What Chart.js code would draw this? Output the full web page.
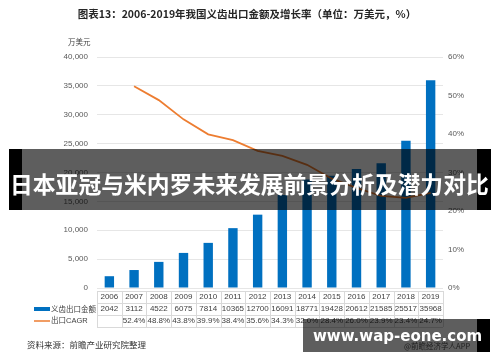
<!DOCTYPE html>
<html>
<head>
<meta charset="utf-8">
<script src="https://cdn.jsdelivr.net/npm/chart.js@4.4.0/dist/chart.umd.min.js"></script>
<style>
  body { margin: 0; background: #fff; }
  #wrap { position: relative; width: 500px; height: 362px; overflow: hidden; }
  .band { position: absolute; background: rgba(0,0,0,0.63); }
  .strip { position: absolute; background: #000; }
  .bandText { position: absolute; color: #fff; font-weight: bold; white-space: nowrap;
    font-family: "Noto Sans CJK SC", sans-serif; }
</style>
</head>
<body>
<div id="wrap">
  <canvas id="chart" width="500" height="362"></canvas>
  <div class="strip" style="left:9px;top:149px;width:13px;height:61px"></div>
  <div class="band" style="left:22px;top:149px;width:455px;height:61px"></div>
  <div class="strip" style="left:477px;top:149px;width:14px;height:61px"></div>
  <div class="bandText" style="left:10px;top:166px;font-size:22.8px;line-height:36px">日本亚冠与米内罗未来发展前景分析及潜力对比</div>

  <div class="band" style="left:303px;top:319px;width:174px;height:33px"></div>
  <div class="strip" style="left:477px;top:319px;width:13px;height:33px"></div>
  <div class="bandText" style="left:313px;top:326px;font-size:15px;line-height:20px;font-family:'DejaVu Sans',sans-serif">www.wap-eone.com</div>
</div>
<script>
// 数据
const years = ['2006','2007','2008','2009','2010','2011','2012','2013','2014','2015','2016','2017','2018','2019'];
const exportValue = [2042, 3112, 4522, 6075, 7814, 10365, 12700, 16091, 18771, 19428, 20612, 21585, 25517, 35968];
const cagr = [null, 52.4, 48.8, 43.8, 39.9, 38.4, 35.6, 34.3, 32.0, 28.4, 26.0, 23.9, 23.4, 24.7];

const blue = '#0070C0';
const orange = '#ED7D31';
const font = "'Liberation Sans', 'Noto Sans CJK SC', sans-serif";

// title, footer and data table below the plot
const tablePlugin = {
    id: 'tablePlugin',
    afterDraw(chart) {
        const ctx = chart.ctx;
        const x = chart.scales.x;
        const step = x.width / years.length;
        const rows = [297, 309, 321];
        ctx.save();

        ctx.fillStyle = '#262626';
        ctx.font = "bold 10.5px 'Noto Sans CJK SC', sans-serif";
        ctx.textAlign = 'center';
        ctx.textBaseline = 'middle';
        ctx.fillText('图表13：2006-2019年我国义齿出口金额及增长率（单位：万美元，%）', 247, 14);

        ctx.font = "7.5px 'Noto Sans CJK SC', sans-serif";
        ctx.fillStyle = '#404040';
        ctx.textAlign = 'left';
        ctx.fillText('万美元', 68, 42);

        ctx.font = "8.5px 'Noto Sans CJK SC', sans-serif";
        ctx.fillStyle = '#333';
        ctx.fillText('资料来源：前瞻产业研究院整理', 27, 345);
        ctx.font = "7.5px 'Noto Sans CJK SC', sans-serif";
        ctx.fillStyle = '#555';
        ctx.fillText('@前瞻经济学人APP', 404, 346);

        // grid of table
        ctx.strokeStyle = '#d9d9d9';
        ctx.lineWidth = 1;
        ctx.beginPath();
        [291, 303, 315, 327].forEach(y => {
            ctx.moveTo(x.left, y + 0.5);
            ctx.lineTo(x.right, y + 0.5);
        });
        for (let i = 0; i <= years.length; i++) {
            const px = Math.round(x.left + i * step) + 0.5;
            ctx.moveTo(px, 291);
            ctx.lineTo(px, 327);
        }
        ctx.stroke();

        ctx.font = '8px ' + font;
        ctx.fillStyle = '#404040';
        ctx.textAlign = 'center';
        years.forEach((yr, i) => {
            const cx = x.getPixelForValue(i);
            ctx.fillText(yr, cx, rows[0]);
            ctx.fillText(String(exportValue[i]), cx, rows[1]);
            if (cagr[i] !== null) ctx.fillText(cagr[i].toFixed(1) + '%', cx, rows[2]);
        });

        // legend keys
        ctx.fillStyle = blue;
        ctx.fillRect(34, rows[1] - 2, 16, 4);
        ctx.strokeStyle = orange;
        ctx.lineWidth = 1.5;
        ctx.beginPath();
        ctx.moveTo(34, rows[2]);
        ctx.lineTo(50, rows[2]);
        ctx.stroke();
        ctx.fillStyle = '#404040';
        ctx.textAlign = 'left';
        ctx.font = "7.5px 'Noto Sans CJK SC', sans-serif";
        ctx.fillText('义齿出口金额', 51, rows[1]);
        ctx.font = "7.5px " + font;
        ctx.fillText('出口CAGR', 51, rows[2]);
        ctx.restore();
    }
};

new Chart(document.getElementById('chart'), {
    data: {
        labels: years,
        datasets: [
            {
                type: 'line',
                label: '出口CAGR',
                data: cagr,
                yAxisID: 'y1',
                borderColor: orange,
                borderWidth: 1.8,
                pointRadius: 0,
                tension: 0,
                order: 0
            },
            {
                type: 'bar',
                label: '义齿出口金额',
                data: exportValue,
                yAxisID: 'y',
                backgroundColor: blue,
                categoryPercentage: 1,
                barPercentage: 0.38,
                order: 1
            }
        ]
    },
    options: {
        responsive: false,
        animation: false,
        layout: { padding: { top: 57, left: 0, right: 0, bottom: 0 } },
        plugins: {
            legend: { display: false },
            tooltip: { enabled: false }
        },
        scales: {
            x: {
                grid: { display: false },
                border: { display: false },
                ticks: { display: false },
                afterFit(scale) { scale.height = 74; }
            },
            y: {
                position: 'left',
                min: 0,
                max: 40000,
                ticks: {
                    stepSize: 5000,
                    padding: 9,
                    color: '#595959',
                    font: { size: 8, family: font },
                    callback: v => v.toLocaleString('en-US')
                },
                grid: { color: '#e6e6e6', drawTicks: false },
                border: { display: false },
                afterFit(scale) { scale.width = 97; }
            },
            y1: {
                position: 'right',
                min: 0,
                max: 60,
                ticks: {
                    stepSize: 10,
                    padding: 5,
                    color: '#595959',
                    font: { size: 8, family: font },
                    callback: v => v + '%'
                },
                grid: { display: false, drawTicks: false },
                border: { display: false },
                afterFit(scale) { scale.width = 57; }
            }
        }
    },
    plugins: [tablePlugin]
});
</script>
</body>
</html>
